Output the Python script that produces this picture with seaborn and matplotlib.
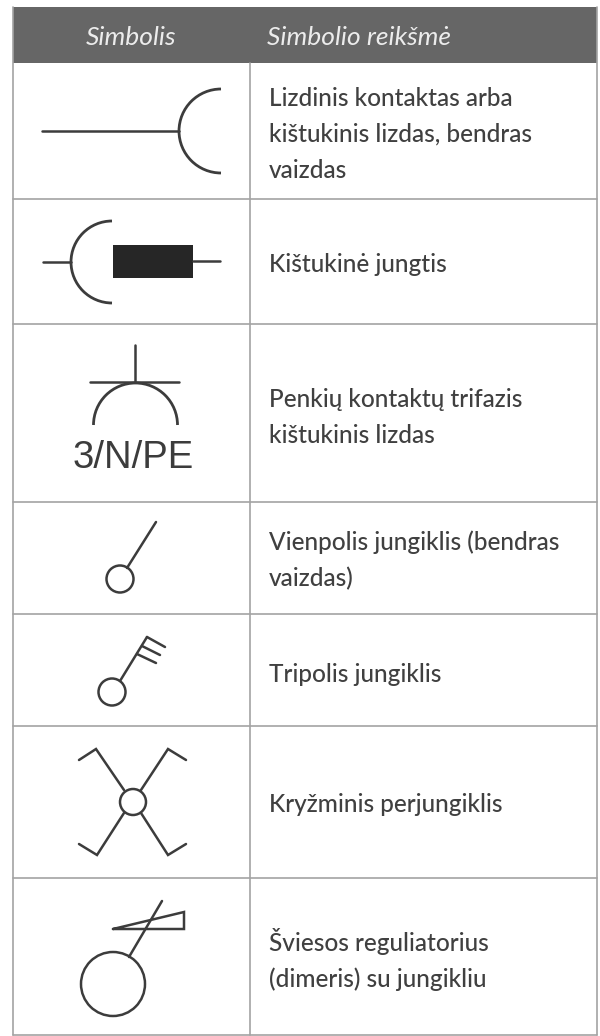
import seaborn as sns
import matplotlib.pyplot as plt
from matplotlib.patches import Arc, Circle, Rectangle

# Table text
headers = ['Simbolis', 'Simbolio reikšmė']
row_labels = [
    ['Lizdinis kontaktas arba', 'kištukinis lizdas, bendras', 'vaizdas'],
    ['Kištukinė jungtis'],
    ['Penkių kontaktų trifazis', 'kištukinis lizdas'],
    ['Vienpolis jungiklis (bendras', 'vaizdas)'],
    ['Tripolis jungiklis'],
    ['Kryžminis perjungiklis'],
    ['Šviesos reguliatorius', '(dimeris) su jungikliu'],
]
label_baselines = [[106, 142, 178], [272], [407, 443], [550, 586], [682], [812], [951, 987]]

# Grid positions in picture pixels
row_lines = [199, 324, 502, 614, 726, 878, 1035]
col_lines = [13, 249.5, 597]

# Symbol strokes: (x list, y list)
strokes = [
    ([42, 179], [131, 131]),
    ([43, 71], [262, 262]),
    ([193, 220], [261, 261]),
    ([134.5, 134.5], [345, 382]),
    ([90, 179], [382, 382]),
    ([127, 156], [568, 522]),
    ([120, 147], [681, 637]),
    ([147, 165], [637, 647]),
    ([142, 160], [646, 655]),
    ([137, 156], [654, 663]),
    ([124, 96, 79], [790, 749, 760]),
    ([141, 168, 186], [790, 749, 760]),
    ([124, 97, 79], [813, 855, 844]),
    ([141, 168, 186], [813, 855, 844]),
    ([129, 162], [957, 901]),
    ([113, 184, 184, 113], [929, 929, 912, 929]),
]
circles = [(120, 579, 13.5), (112, 692, 13.5), (133, 802, 13), (113, 984, 32)]
arcs = [(221, 131, 42, 90, 270), (112, 262, 41, 90, 270), (135.5, 425, 42, 180, 360)]

sns.set_theme(style='white')
plt.rcParams['font.family'] = ['Lato', 'Liberation Sans', 'DejaVu Sans']

fig, ax = plt.subplots(figsize=(6, 10.36), dpi=100)
ax.set_position([0, 0, 1, 1])
ax.set_xlim(0, 600)
ax.set_ylim(1036, 0)
ax.axis('off')

ink = '#3c3c3c'
grid = '#a3a3a3'


def stroke(x, y, lw=1.8, color=ink):
    sns.lineplot(x=x, y=y, sort=False, estimator=None, color=color, lw=lw, ax=ax,
                 legend=False, solid_capstyle='round', solid_joinstyle='miter')


# Header band and grid
ax.add_patch(Rectangle((col_lines[0], 6.5), col_lines[2] - col_lines[0], 56.5, color='#666666', lw=0))
for y in row_lines:
    stroke([col_lines[0], col_lines[2]], [y, y], lw=1.2, color=grid)
for x in col_lines:
    stroke([x, x], [63 if x == col_lines[1] else 6.5, 1035], lw=1.2, color=grid)

ax.text(131, 45, headers[0], color='#ececec', fontsize=19, style='italic', ha='center', va='baseline')
ax.text(267, 45, headers[1], color='#ececec', fontsize=19, style='italic', ha='left', va='baseline')

# Descriptions
for lines, bases in zip(row_labels, label_baselines):
    for text, base in zip(lines, bases):
        ax.text(269, base, text, color='#404040', fontsize=17.6, weight='medium', ha='left', va='baseline')

# Symbols
for x, y in strokes:
    stroke(x, y)
for cx, cy, r in circles:
    ax.add_patch(Circle((cx, cy), r, fill=False, ec=ink, lw=1.8))
for cx, cy, r, a, b in arcs:
    ax.add_patch(Arc((cx, cy), 2 * r, 2 * r, theta1=a, theta2=b, ec=ink, lw=2))
ax.add_patch(Rectangle((113, 245), 80, 33, color='#262626', lw=0))
ax.text(133, 468, '3/N/PE', color=ink, fontsize=27.5, family='Liberation Sans', ha='center', va='baseline')

fig.savefig('out.png', dpi=100, facecolor='white')
